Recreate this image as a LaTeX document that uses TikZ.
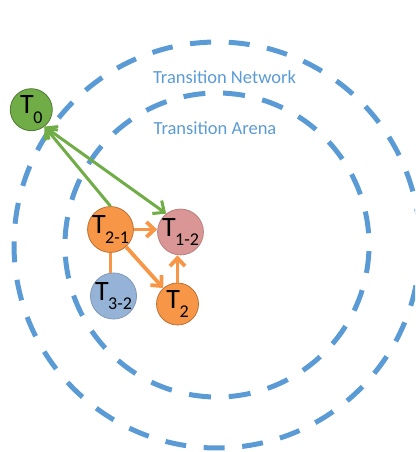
\documentclass[tikz,border=0pt]{standalone}
\usepackage{fontspec}
\setmainfont{Carlito}
\usetikzlibrary{arrows.meta}
\definecolor{dashblue}{HTML}{5B9BD5}
\definecolor{arrgreen}{HTML}{70AD47}
\definecolor{arrorange}{HTML}{F79646}
\definecolor{nodegreen}{HTML}{70AD47}
\definecolor{nodeorange}{HTML}{F79646}
\definecolor{nodepink}{HTML}{D99694}
\definecolor{nodeblue}{HTML}{95B3D7}
\newcommand{\tlab}[1]{{\fontsize{28}{28}\selectfont T}\kern-0.5pt\raisebox{-9.5pt}{\fontsize{18}{18}\selectfont #1}}
\tikzset{
  ring/.style={draw=dashblue, line width=5pt},
  tnode/.style={circle, minimum size=42pt, inner sep=0pt, line width=0.8pt, text=black},
  greenarr/.style={draw=arrgreen, line width=3pt, arrows={-Straight Barb[length=9pt,width=16pt]}},
  orangearr/.style={draw=arrorange, line width=3.8pt, arrows={-Straight Barb[length=8pt,width=15pt]}},
  ringlabel/.style={text=dashblue, font=\fontsize{18.5}{18.5}\selectfont, inner sep=0pt}
}
\begin{document}
\begin{tikzpicture}[x=1pt,y=1pt]
\useasboundingbox (0,0) rectangle (415,452);
\clip (0,0) rectangle (415,452);
\coordinate (c) at (217,207);
% outer ring
\draw[ring, dash pattern=on 21pt off 17.65pt] (c) ++(91.7:203) arc[start angle=91.7, end angle=451.7, radius=203];
% inner ring
\draw[ring, dash pattern=on 22pt off 17.8pt] (c) ++(79.4:152) arc[start angle=79.4, end angle=439.4, radius=152];
\node[ringlabel] (net) at (224.5,375) {Transition Network};
\node[ringlabel] (arena) at (215,324) {Transition Arena};
% nodes
\node[tnode, fill=nodegreen, draw=nodegreen!70!black] (T0) at (31.3,342.3) {\tlab{0}};
\node[tnode, fill=nodeorange, draw=nodeorange!75!black] (T21) at (110.5,222.5) {\tlab{2-1}};
\node[tnode, fill=nodepink, draw=nodepink!85!black] (T12) at (180.5,220) {\tlab{1-2}};
\node[tnode, fill=nodeblue, draw=nodeblue!85!black] (T32) at (113.5,156) {\tlab{3-2}};
\node[tnode, fill=nodeorange, draw=nodeorange!75!black] (T2) at (177.5,148) {\tlab{2}};
% green arrows
\draw[greenarr] (T21.north) -- (T0.-52);
\draw[greenarr, arrows={Straight Barb[length=9pt,width=16pt]-Straight Barb[length=9pt,width=16pt]}] (T0.-52) -- (T12.128);
% orange arrows
\draw[orangearr] (T21.east) -- (T21.east -| T12.west);
\draw[orangearr] (T21) -- (T2);
\draw[orangearr] (T2.north) -- (T2.north |- T12.south);
\draw[draw=arrorange, line width=3.8pt] (T21.south) -- (T21.south |- T32.north);
\end{tikzpicture}
\end{document}
